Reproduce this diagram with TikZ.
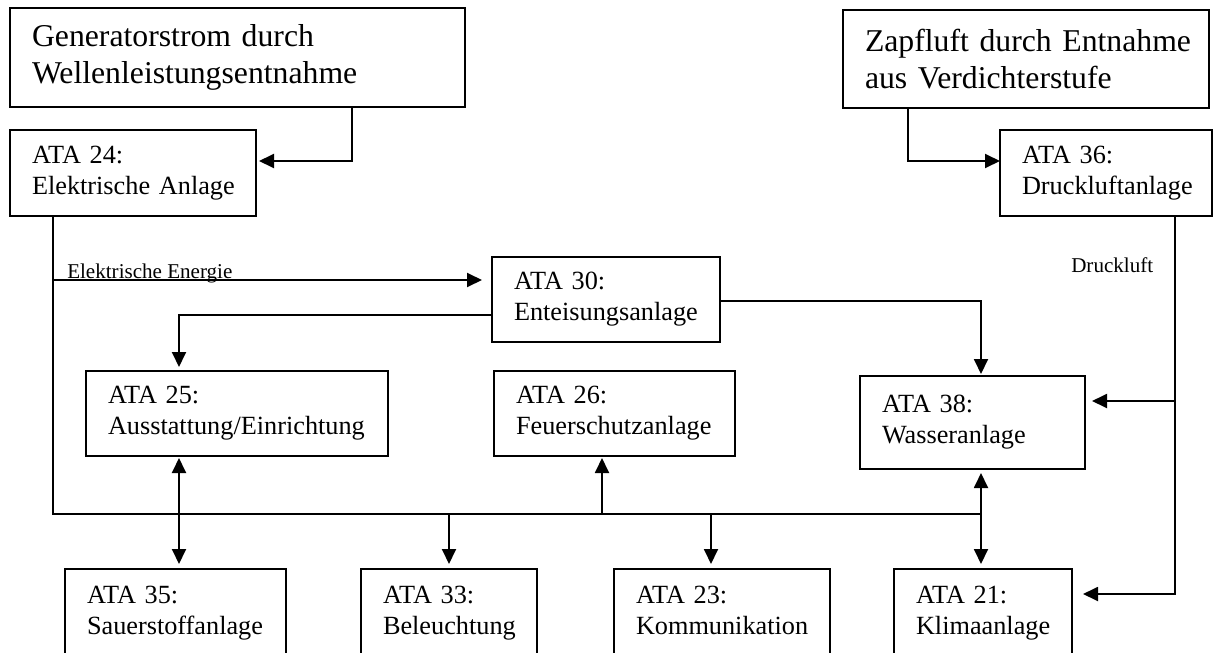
\documentclass[tikz,border=0pt]{standalone}
\usepackage{fontspec}
\setmainfont{Liberation Serif}
\usetikzlibrary{arrows.meta}
\hyphenpenalty=10000
\exhyphenpenalty=10000
\hbadness=10000
\hfuzz=100pt
\newcommand{\BFont}{\fontsize{23.8pt}{27.75pt}\selectfont}
\newcommand{\BoxFont}{\fontsize{19.7pt}{23.25pt}\selectfont}
\newcommand{\LblFont}{\fontsize{15.8pt}{18pt}\selectfont}
\begin{document}
\begin{tikzpicture}[x=0.75pt,y=-0.75pt,
  box/.style={draw, line width=1.4pt, anchor=north west, outer sep=0pt,
    inner xsep=16.5pt, inner ysep=0pt, align=left, font=\BoxFont},
  bigbox/.style={box, font=\BFont},
  lbl/.style={inner sep=0pt, font=\LblFont, anchor=base west},
  conn/.style={line width=1.4pt},
  arr/.style={conn, -{Triangle[length=11.25pt,width=10.5pt]}},
  dbl/.style={conn, {Triangle[length=11.25pt,width=10.5pt]}-{Triangle[length=11.25pt,width=10.5pt]}}]
\clip (0,0) rectangle (1214,653);

% boxes
\node[bigbox, text width=308.25pt, minimum height=74.25pt] (gen) at (10,8) {\mbox{Generatorstrom durch}\\\mbox{Wellenleistungsentnahme}};
\node[bigbox, text width=241.5pt, minimum height=73.5pt] (zap) at (843,10) {\mbox{Zapfluft durch Entnahme}\\\mbox{aus Verdichterstufe}};
\node[box, text width=151.5pt, minimum height=64.5pt] (a24) at (10,130) {\mbox{ATA 24:}\\\mbox{Elektrische Anlage}};
\node[box, text width=126pt, minimum height=64.5pt] (a36) at (1000,130) {\mbox{ATA 36:}\\\mbox{Druckluftanlage}};
\node[box, text width=138pt, minimum height=63.75pt] (a30) at (492,257) {\mbox{ATA 30:}\\\mbox{Enteisungsanlage}};
\node[box, text width=193.5pt, minimum height=63.75pt] (a25) at (86,371) {\mbox{ATA 25:}\\\mbox{Ausstattung/Einrichtung}};
\node[box, text width=147.75pt, minimum height=63.75pt] (a26) at (494,371) {\mbox{ATA 26:}\\\mbox{Feuerschutzanlage}};
\node[box, text width=135.75pt, minimum height=69.75pt] (a38) at (860,376) {\mbox{ATA 38:}\\\mbox{Wasseranlage}};
\node[box, text width=132.75pt, minimum height=66pt] (a35) at (65,569) {\mbox{ATA 35:}\\\mbox{Sauerstoffanlage}};
\node[box, text width=99pt, minimum height=66pt] (a33) at (361,569) {\mbox{ATA 33:}\\\mbox{Beleuchtung}};
\node[box, text width=129pt, minimum height=66pt] (a23) at (614,569) {\mbox{ATA 23:}\\\mbox{Kommunikation\vphantom{g}}};
\node[box, text width=100.5pt, minimum height=66pt] (a21) at (894,569) {\mbox{ATA 21:}\\\mbox{Klimaanlage}};

% labels
\node[lbl] (lE) at (67,278) {Elektrische Energie};
\node[lbl] (lD) at (1071,272) {Druckluft};

% coordinates
\coordinate (g1) at (352,161);
\coordinate (z1) at (908,161);
\coordinate (eE) at (53,280);
\coordinate (busL) at (53,514);
\coordinate (busR) at (981,514);
\coordinate (c25) at (179,315);
\coordinate (c38) at (981,301);
\coordinate (b26) at (602,514);
\coordinate (b33) at (449,514);
\coordinate (b23) at (711,514);
\coordinate (d1) at (1175,594);
\coordinate (d2) at (1175,401);

% connectors
\draw[arr, shorten >=2.25pt] (gen.south -| g1) -- (g1) -- (a24.east |- g1);
\draw[arr] (zap.south -| z1) -- (z1) -- (a36.west |- z1);
\draw[conn] (a24.south -| busL) -- (busL) -- (busR);
\draw[arr, shorten >=7.5pt] (eE) -- (a30.west |- eE);
\draw[arr, shorten >=3pt] (a30.west |- c25) -- (c25) -- (a25.north -| c25);
\draw[dbl, shorten <=1.5pt, shorten >=3.75pt] (a25.south -| c25) -- (a35.north -| c25);
\draw[arr, shorten >=1.5pt] (a30.east |- c38) -- (c38) -- (a38.north -| c38);
\draw[dbl, shorten <=3pt, shorten >=3.75pt] (a38.south -| c38) -- (a21.north -| c38);
\draw[arr, shorten >=1.5pt] (b26) -- (a26.south -| b26);
\draw[arr, shorten >=3.75pt] (b33) -- (a33.north -| b33);
\draw[arr, shorten >=3.75pt] (b23) -- (a23.north -| b23);
\draw[arr, shorten >=8.25pt] (a36.south -| d1) -- (d1) -- (a21.east |- d1);
\draw[arr, shorten >=5.25pt] (d2) -- (a38.east |- d2);
\end{tikzpicture}
\end{document}
